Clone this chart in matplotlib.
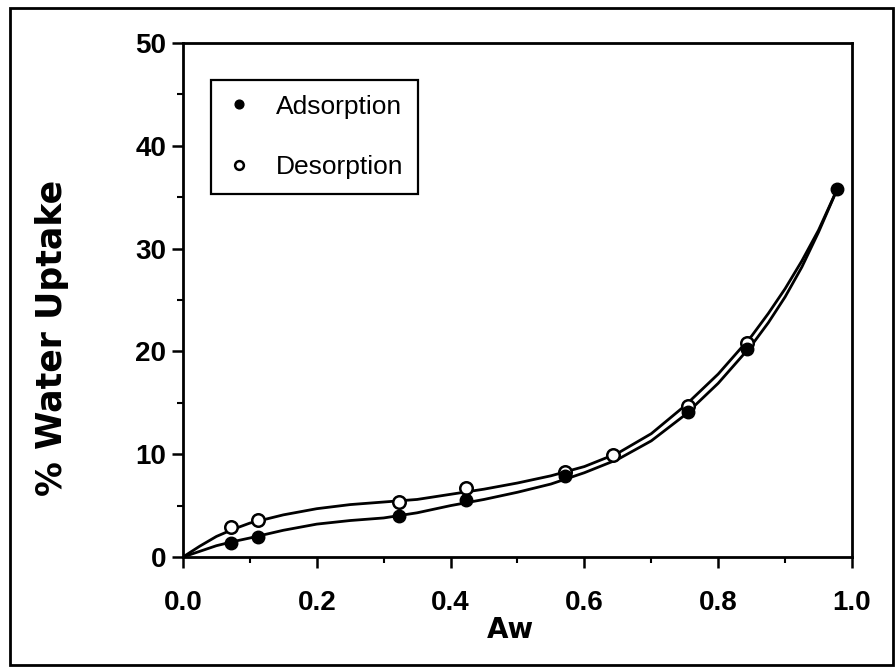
import numpy as np
import matplotlib.pyplot as plt
from matplotlib.patches import Rectangle

# measured points
ads_aw = [0.072, 0.112, 0.323, 0.423, 0.571, 0.755, 0.843, 0.978]
ads_up = [1.4, 1.95, 4.0, 5.5, 7.9, 14.1, 20.2, 35.8]
des_aw = [0.072, 0.112, 0.323, 0.423, 0.571, 0.643, 0.755, 0.843]
des_up = [2.9, 3.6, 5.35, 6.7, 8.3, 9.9, 14.7, 20.8]

# fitted curves
fit_aw = [0, 0.025, 0.05, 0.075, 0.1, 0.15, 0.2, 0.25, 0.3, 0.35, 0.4, 0.45, 0.5,
          0.55, 0.6, 0.65, 0.7, 0.75, 0.8, 0.85, 0.875, 0.9, 0.925, 0.95, 0.978]
fit_des = [0, 1.05, 2.0, 2.7, 3.3, 4.1, 4.7, 5.1, 5.35, 5.6, 6.1, 6.6, 7.2,
           7.9, 8.8, 10.1, 12.0, 14.7, 17.8, 21.5, 23.7, 26.1, 28.8, 31.8, 35.8]
fit_ads = [0, 0.55, 1.1, 1.5, 1.85, 2.6, 3.2, 3.55, 3.8, 4.3, 5.0, 5.6, 6.3,
           7.1, 8.2, 9.5, 11.3, 13.8, 16.9, 20.6, 22.8, 25.3, 28.2, 31.6, 35.8]

fig = plt.figure(figsize=(8.96, 6.67), dpi=100)
ax = fig.add_axes([0.2042, 0.1649, 0.7467, 0.7706])

# outer frame
fig.patches.append(Rectangle((0.011, 0.003), 0.986, 0.985, transform=fig.transFigure,
                             fill=False, edgecolor='black', linewidth=2))

ax.plot(fit_aw, fit_des, color='black', lw=2, zorder=2, solid_joinstyle='round')
ax.plot(fit_aw, fit_ads, color='black', lw=2, zorder=2, solid_joinstyle='round')
ax.plot(des_aw, des_up, 'o', ms=9, mfc='white', mec='black', mew=1.8,
        zorder=3, label='Desorption')
ax.plot(ads_aw, ads_up, 'o', ms=9, mfc='black', mec='black',
        zorder=4, label='Adsorption')

ax.set_xlim(0, 1.0)
ax.set_ylim(0, 50)
ax.set_xticks(np.arange(0, 1.01, 0.2))
ax.set_xticks(np.arange(0.1, 1.0, 0.2), minor=True)
ax.set_yticks(np.arange(0, 51, 10))
ax.set_yticks(np.arange(5, 50, 10), minor=True)
ax.set_xticklabels(['0.0', '0.2', '0.4', '0.6', '0.8', '1.0'])

for s in ax.spines.values():
    s.set_linewidth(2)
ax.tick_params(which='major', direction='out', length=8, width=1.8)
ax.tick_params(which='minor', direction='out', length=4, width=1.5)
ax.tick_params(axis='x', which='major', pad=16)
ax.tick_params(axis='y', which='major', pad=4)
for lab in ax.get_xticklabels() + ax.get_yticklabels():
    lab.set_fontfamily('Liberation Sans')
    lab.set_fontweight('bold')
    lab.set_fontsize(20)

ax.set_xlabel('Aw', fontfamily='DejaVu Sans', fontweight='heavy', fontsize=20, va='top')
ax.xaxis.set_label_coords(0.49, -0.115)
ax.set_ylabel('% Water Uptake', fontfamily='DejaVu Sans', fontweight='heavy',
              fontsize=25, va='center')
ax.yaxis.set_label_coords(-0.196, 0.426)

h, l = ax.get_legend_handles_labels()
leg = ax.legend(h[::-1], l[::-1], loc='upper left', bbox_to_anchor=(0.042, 0.928),
                borderaxespad=0, fancybox=False, edgecolor='black', framealpha=1,
                prop={'family': 'Liberation Sans', 'size': 19},
                handlelength=1.0, handletextpad=0.9, labelspacing=1.4,
                borderpad=0.55, markerscale=0.7)
leg.get_frame().set_linewidth(1.6)

fig.savefig('out.png', dpi=100)
